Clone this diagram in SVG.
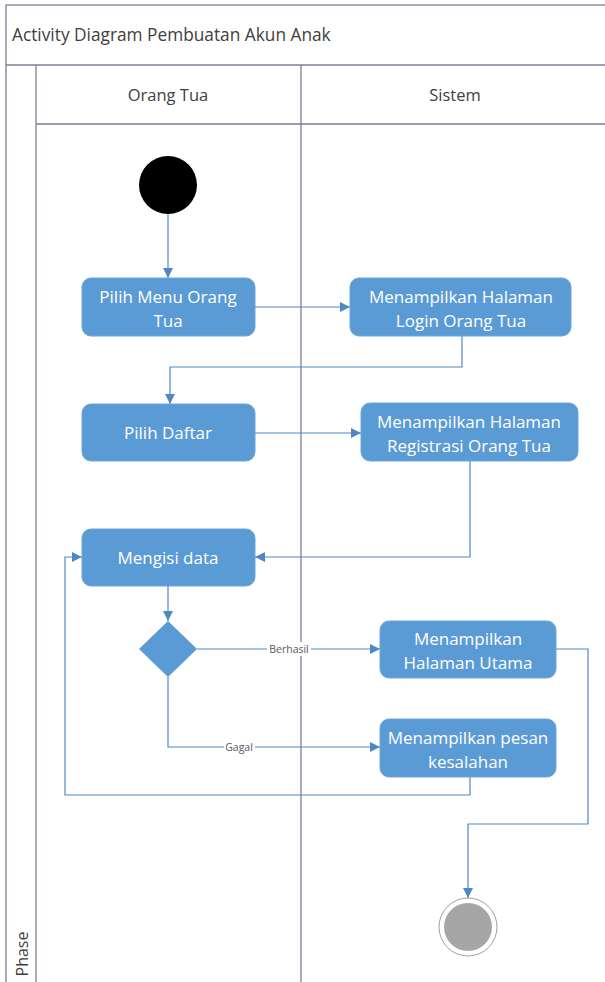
<svg xmlns="http://www.w3.org/2000/svg" width="605" height="982" viewBox="0 0 605 982">
  <defs>
    <marker id="arrow" viewBox="0 0 10 10" refX="10" refY="5" markerWidth="10" markerHeight="10" markerUnits="userSpaceOnUse" orient="auto">
      <path d="M0,0 L10,5 L0,10 z" fill="#4f88c4"/>
    </marker>
  </defs>
  <style>
    .frame { fill: none; stroke: #7b7f94; stroke-width: 1.3; }
    .act { fill: #5b9bd5; stroke: #6aa6dc; stroke-width: 1; }
    .act-text { font-family: "Open Sans", "Noto Sans", sans-serif; font-size: 17px; fill: #ffffff; text-anchor: middle; }
    .hdr { font-family: "Open Sans", "Noto Sans", sans-serif; font-size: 16.5px; fill: #404040; text-anchor: middle; }
    .conn { fill: none; stroke: #4f88c4; stroke-width: 1.2; }
    .lbl { font-family: "Open Sans", "Noto Sans", sans-serif; font-size: 10.5px; fill: #595959; text-anchor: middle; }
  </style>

  <!-- swimlane frame -->
  <g id="frame">
    <rect x="0" y="0" width="605" height="982" fill="#ffffff"/>
    <rect class="frame" x="6" y="5" width="620" height="990"/>
    <line class="frame" x1="6" y1="65" x2="605" y2="65"/>
    <line class="frame" x1="36" y1="65" x2="36" y2="982"/>
    <line class="frame" x1="36" y1="124" x2="605" y2="124"/>
    <line class="frame" x1="301" y1="65" x2="301" y2="982"/>
    <text x="12" y="41" font-family="'Open Sans', 'Noto Sans', sans-serif" font-size="17.3" fill="#404040">Activity Diagram Pembuatan Akun Anak</text>
    <text class="hdr" x="168" y="101">Orang Tua</text>
    <text class="hdr" x="455" y="101">Sistem</text>
    <text x="28" y="954" transform="rotate(-90 28 954)" font-family="'Open Sans', 'Noto Sans', sans-serif" font-size="16" fill="#404040" text-anchor="middle">Phase</text>
  </g>

  <!-- connectors -->
  <g id="connectors">
    <line class="conn" x1="168" y1="214" x2="168" y2="278" marker-end="url(#arrow)"/>
    <line class="conn" x1="255" y1="307" x2="350" y2="307" marker-end="url(#arrow)"/>
    <polyline class="conn" points="462,336 462,367 170,367 170,404" marker-end="url(#arrow)"/>
    <line class="conn" x1="255" y1="433" x2="361" y2="433" marker-end="url(#arrow)"/>
    <polyline class="conn" points="470,461 470,557 255,557" marker-end="url(#arrow)"/>
    <line class="conn" x1="168" y1="586" x2="168" y2="621" marker-end="url(#arrow)"/>
    <line class="conn" x1="197" y1="649" x2="380" y2="649" marker-end="url(#arrow)"/>
    <polyline class="conn" points="168,677 168,747 380,747" marker-end="url(#arrow)"/>
    <polyline class="conn" points="470,777 470,795 65,795 65,557 82,557" marker-end="url(#arrow)"/>
    <polyline class="conn" points="556,649 588,649 588,824 468,824 468,898" marker-end="url(#arrow)"/>
    <rect x="267" y="642" width="44" height="14" fill="#ffffff"/>
    <text class="lbl" x="289" y="653">Berhasil</text>
    <rect x="224" y="740" width="31" height="14" fill="#ffffff"/>
    <text class="lbl" x="239" y="751">Gagal</text>
  </g>

  <g id="start">
    <circle cx="168" cy="185" r="29" fill="#000000"/>
  </g>

  <g id="pilih-menu">
    <rect class="act" x="82" y="278" width="173" height="58" rx="9"/>
    <text class="act-text" x="168" y="303">Pilih Menu Orang</text>
    <text class="act-text" x="168" y="327">Tua</text>
  </g>

  <g id="halaman-login">
    <rect class="act" x="350" y="278" width="221" height="58" rx="9"/>
    <text class="act-text" x="461" y="303">Menampilkan Halaman</text>
    <text class="act-text" x="461" y="327">Login Orang Tua</text>
  </g>

  <g id="pilih-daftar">
    <rect class="act" x="82" y="404" width="173" height="57" rx="9"/>
    <text class="act-text" x="168" y="439">Pilih Daftar</text>
  </g>

  <g id="halaman-registrasi">
    <rect class="act" x="361" y="403" width="217" height="58" rx="9"/>
    <text class="act-text" x="469" y="428">Menampilkan Halaman</text>
    <text class="act-text" x="469" y="452">Registrasi Orang Tua</text>
  </g>

  <g id="mengisi-data">
    <rect class="act" x="82" y="529" width="173" height="57" rx="9"/>
    <text class="act-text" x="168" y="564">Mengisi data</text>
  </g>

  <g id="decision">
    <polygon points="168,621 197,649 168,677 139,649" fill="#5b9bd5"/>
  </g>

  <g id="halaman-utama">
    <rect class="act" x="380" y="621" width="176" height="57" rx="9"/>
    <text class="act-text" x="468" y="645">Menampilkan</text>
    <text class="act-text" x="468" y="669">Halaman Utama</text>
  </g>

  <g id="pesan-kesalahan">
    <rect class="act" x="380" y="719" width="176" height="58" rx="9"/>
    <text class="act-text" x="468" y="744">Menampilkan pesan</text>
    <text class="act-text" x="468" y="768">kesalahan</text>
  </g>

  <g id="end">
    <circle cx="468" cy="927" r="29" fill="#ffffff" stroke="#a0a0a0" stroke-width="1"/>
    <circle cx="468" cy="927" r="24" fill="#a6a6a6"/>
  </g>
</svg>
